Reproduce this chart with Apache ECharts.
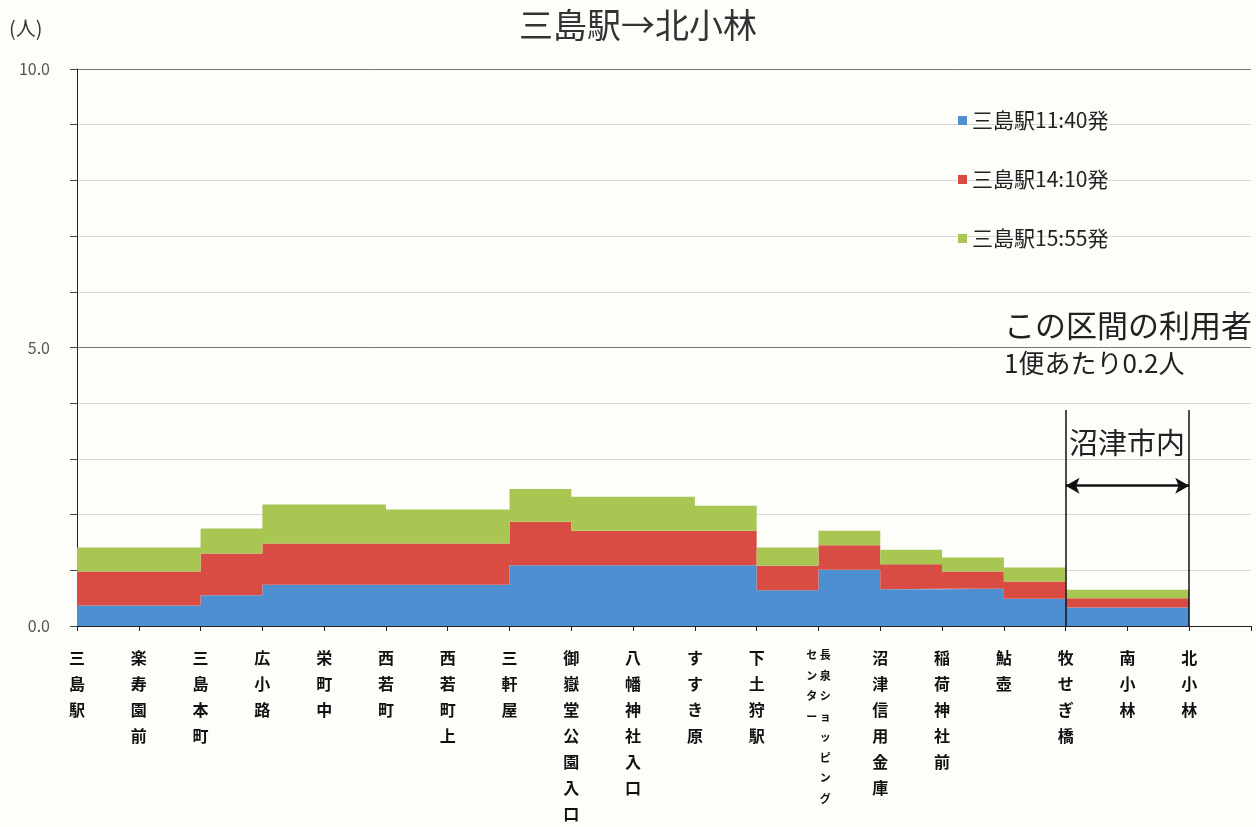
<!DOCTYPE html>
<html><head><meta charset="utf-8">
<script src="https://cdn.jsdelivr.net/npm/echarts@6/dist/echarts.min.js"></script>
<style>html,body{margin:0;padding:0;background:#fdfdfa;overflow:hidden;}#c{width:1256px;height:827px;}</style>
</head><body><div id="c"></div>
<script>
const stops = ['三島駅','楽寿園前','三島本町','広小路','栄町中','西若町','西若町上','三軒屋','御嶽堂公園入口','八幡神社入口','すすき原','下土狩駅','長泉ショッピングセンター','沼津信用金庫','稲荷神社前','鮎壺','牧せぎ橋','南小林','北小林',''];
const seriesNames = ['三島駅11:40発','三島駅14:10発','三島駅15:55発'];
const trip1140 = [0.37,0.37,0.55,0.74,0.74,0.74,0.74,1.09,1.09,1.09,1.09,0.64,1.01,0.66,0.67,0.49,0.33,0.33,0.33];
const trip1410 = [0.61,0.61,0.75,0.74,0.74,0.74,0.74,0.78,0.62,0.62,0.62,0.44,0.44,0.45,0.31,0.31,0.17,0.17,0.17];
const trip1555 = [0.43,0.43,0.45,0.70,0.70,0.61,0.61,0.59,0.61,0.61,0.45,0.33,0.26,0.26,0.25,0.25,0.15,0.15,0.15];
const yTickLabels = {0:'0.0',5:'5.0',10:'10.0'};

const colors = ['#4d8fd1','#d94c43','#a9c653'];
const font = '"Noto Sans CJK JP", "Noto Sans", sans-serif';

function labelFmt(v){
  if (v === '長泉ショッピングセンター') {
    const right = '長泉ショッピング'.split('');
    const left = 'センター'.split('');
    const rows = [];
    for (let i = 0; i < right.length; i++) {
      rows.push('{s|' + (left[i] || '　') + ' ' + right[i] + '}');
    }
    return rows.join('\n');
  }
  return v.split('').join('\n');
}

const chart = echarts.init(document.getElementById('c'));
const datasets = [trip1140, trip1410, trip1555];
const series = datasets.map((d, i) => ({
  name: seriesNames[i],
  type: 'line',
  stack: 'total',
  step: 'end',
  symbol: 'none',
  data: d,
  lineStyle: {width: 0},
  areaStyle: {color: colors[i], opacity: 1},
  itemStyle: {color: colors[i]},
  z: 2
}));
series.push({
  type: 'line', data: [], silent: true,
  markLine: {
    silent: true, symbol: ['none','none'], label: {show: false},
    lineStyle: {color: '#111', width: 1.5, type: 'solid'},
    data: [
      [{coord: ['牧せぎ橋', 3.88]}, {coord: ['牧せぎ橋', 0]}],
      [{coord: ['北小林', 3.88]}, {coord: ['北小林', 0]}]
    ]
  }
});
series.push({
  type: 'line', data: [], silent: true,
  markLine: {
    silent: true, symbol: ['arrow','arrow'], symbolSize: [12, 14], label: {show: false},
    lineStyle: {color: '#111', width: 2.5, type: 'solid'},
    data: [[{coord: [16.2, 2.52]}, {coord: [17.8, 2.52]}]]
  }
});

chart.setOption({
  backgroundColor: '#fdfdfa',
  animation: false,
  textStyle: {fontFamily: font},
  title: {
    text: '三島駅→北小林', left: 514, top: 3,
    textStyle: {fontFamily: font, fontSize: 34, fontWeight: 'normal', color: '#333'}
  },
  legend: {
    orient: 'vertical', left: 953, top: 105, itemWidth: 9, itemHeight: 9, icon: 'rect', itemGap: 38,
    data: seriesNames,
    textStyle: {fontFamily: font, fontSize: 21, color: '#222'}
  },
  grid: {left: 77, right: 5, top: 69, bottom: 198, containLabel: false},
  xAxis: {
    type: 'category', data: stops, boundaryGap: false,
    axisLine: {lineStyle: {color: '#222', width: 1}},
    axisTick: {show: true, length: 5, lineStyle: {color: '#222'}, alignWithLabel: true},
    axisLabel: {
      interval: 0, margin: 19, color: '#111', fontSize: 16, fontWeight: 'bold', lineHeight: 26,
      verticalAlign: 'top', formatter: labelFmt,
      rich: {s: {fontSize: 11, lineHeight: 20.5, fontWeight: 'bold', color: '#111'}}
    },
    splitLine: {show: false}
  },
  yAxis: {
    type: 'value', min: 0, max: 10, interval: 1,
    axisLine: {show: true, lineStyle: {color: '#222'}},
    axisTick: {show: true, length: 7, lineStyle: {color: '#444'}},
    axisLabel: {margin: 27, color: '#555', fontSize: 16, fontFamily: font,
      formatter: v => (yTickLabels[v] !== undefined ? yTickLabels[v] : '')},
    splitLine: {show: true, lineStyle: {color: ['#777','#d8d8d4','#d8d8d4','#d8d8d4','#d8d8d4'], width: 1}}
  },
  graphic: [
    {type: 'text', left: 9, top: 18, style: {text: '(人)', font: '20px ' + font, fill: '#333'}},
    {type: 'text', left: 1004, top: 310, style: {text: 'この区間の利用者', font: '31px ' + font, fill: '#222'}},
    {type: 'text', left: 1004, top: 350, style: {text: '1便あたり0.2人', font: '26px ' + font, fill: '#222'}},
    {type: 'text', left: 1069, top: 428, style: {text: '沼津市内', font: '29px ' + font, fill: '#222'}}
  ],
  series: series
});
</script></body></html>
